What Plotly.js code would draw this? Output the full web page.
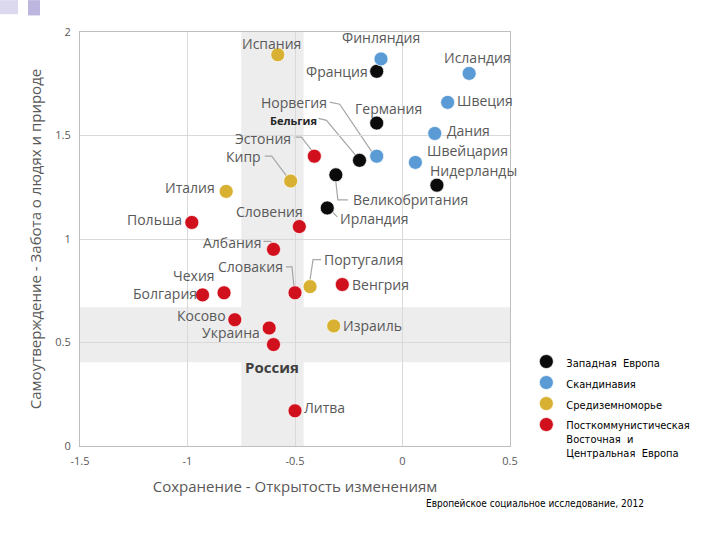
<!DOCTYPE html>
<html><head><meta charset="utf-8">
<script src="https://cdn.plot.ly/plotly-3.0.1.min.js"></script>
<style>html,body{margin:0;padding:0;background:#fff}</style>
</head><body><div id="chart" style="width:720px;height:540px"></div>
<script>
// ---- data ----
const countries = ["Испания","Финляндия","Франция","Исландия","Швеция","Германия","Дания","Норвегия","Бельгия","Эстония","Швейцария","Кипр","Великобритания","Нидерланды","Италия","Ирландия","Польша","Словения","Албания","Португалия","Венгрия","Словакия","Чехия","Болгария","Косово","Израиль","Украина","Россия","Литва"];
const opennessValues = [-0.58,-0.10,-0.12,0.31,0.21,-0.12,0.15,-0.12,-0.20,-0.41,0.06,-0.52,-0.31,0.16,-0.82,-0.35,-0.98,-0.48,-0.60,-0.43,-0.28,-0.50,-0.83,-0.93,-0.78,-0.32,-0.62,-0.60,-0.50];
const careValues = [1.89,1.87,1.81,1.80,1.66,1.56,1.51,1.40,1.38,1.40,1.37,1.28,1.31,1.26,1.23,1.15,1.08,1.06,0.95,0.77,0.78,0.74,0.74,0.73,0.61,0.58,0.57,0.49,0.17];
const regionOf = [2,1,0,1,1,0,1,1,0,3,1,2,0,0,2,0,3,3,3,2,3,3,3,3,3,2,3,3,3];
const regionNames = ["Западная  Европа","Скандинавия","Средиземноморье","Посткоммунистическая<br>Восточная  и<br>Центральная  Европа"];
const xTickVals = [-1.5,-1,-0.5,0,0.5];
const xTickText = ["-1.5","-1","-0.5","0","0.5"];
const yTickVals = [0,0.5,1,1.5,2];
const yTickText = ["0","0.5","1","1.5","2"];
const xBand = [-0.75,-0.46];
const yBand = [0.405,0.67];
const xTitle = "Сохранение - Открытость изменениям";
const yTitle = "Самоутверждение - Забота о людях и природе";
const sourceText = "Европейское социальное исследование, 2012";

// ---- styles ----
const regionColors = ["#0b0b0b","#5b9bd5","#d8b133","#d0101c"];
const labelFont = {family:"Open Sans, Noto Sans, sans-serif", size:14, color:"#595959"};
const narrowFont = "Liberation Sans Narrow, DejaVu Sans Condensed, Arial Narrow, Liberation Sans, sans-serif";

// label placement (px offsets from the point, dy positive = down); leader: elbow path offsets in px (y up)
const placement = {
 "Испания":{t:"center",dx:-6,dy:-11},
 "Финляндия":{t:"center",dx:0,dy:-21},
 "Франция":{t:"right",dx:-8,dy:0},
 "Исландия":{t:"center",dx:8,dy:-16},
 "Швеция":{t:"left",dx:8,dy:-2},
 "Германия":{t:"center",dx:12,dy:-15},
 "Дания":{t:"left",dx:11,dy:-3},
 "Швейцария":{t:"left",dx:11,dy:-12},
 "Нидерланды":{t:"left",dx:-8,dy:-15},
 "Норвегия":{t:"right",dx:-49,dy:-54, leader:[[-47,54],[-37,52],[-4,3]]},
 "Бельгия":{t:"left",dx:-91,dy:-40,bold:true, leader:[[-41,42],[-33,40],[-3,4]]},
 "Эстония":{t:"right",dx:-22,dy:-18, leader:[[-20,19],[-13,19],[-2,5]]},
 "Кипр":{t:"right",dx:-29,dy:-25, leader:[[-26,25],[-19,25],[-4,5]]},
 "Великобритания":{t:"left",dx:16,dy:25, leader:[[0,-7],[2,-25],[12,-25]]},
 "Ирландия":{t:"left",dx:12,dy:11, leader:[[5,-4],[10,-9]]},
 "Италия":{t:"right",dx:-10,dy:-4},
 "Польша":{t:"right",dx:-9,dy:-3},
 "Словения":{t:"center",dx:-30,dy:-15},
 "Албания":{t:"right",dx:-12,dy:-7, leader:[[-10,8],[-3,8],[-1,6]]},
 "Словакия":{t:"right",dx:-11,dy:-26, leader:[[-9,26],[-3,26],[-1,6]]},
 "Португалия":{t:"left",dx:13,dy:-27, leader:[[11,27],[3,27],[0,7]]},
 "Венгрия":{t:"left",dx:9,dy:0},
 "Чехия":{t:"center",dx:-30,dy:-17},
 "Болгария":{t:"right",dx:-5,dy:-1},
 "Косово":{t:"right",dx:-8,dy:-4},
 "Израиль":{t:"left",dx:8,dy:0},
 "Украина":{t:"right",dx:-8,dy:4},
 "Россия":{t:"center",dx:-2,dy:22,russia:true},
 "Литва":{t:"left",dx:8,dy:-3}
};

const traces = regionNames.map((name,g)=>{
  const idx = countries.map((c,i)=>i).filter(i=>regionOf[i]===g);
  return {
    type:"scatter", mode:"markers", name:name, legendgroup:"g"+g,
    x: idx.map(i=>opennessValues[i]), y: idx.map(i=>careValues[i]),
    text: idx.map(i=>countries[i]),
    marker:{size:14, color:regionColors[g], line:{color:"rgba(255,255,255,0.7)", width:1}},
    hoverinfo:"text"
  };
});

const annotations = countries.map((c,i)=>{
  const p = placement[c];
  const a = {x:opennessValues[i], y:careValues[i], xref:"x", yref:"y", text:c, font:Object.assign({},labelFont), borderpad:0,
    showarrow:false, xanchor:p.t, yanchor:"middle", xshift:p.dx, yshift:-p.dy};
  if (p.bold) { a.font = {family:"Open Sans, sans-serif", size:11, color:"#262626", weight:700}; }
  if (p.russia) { a.font = {family:"Open Sans, sans-serif", size:15, color:"#404040", weight:700}; }
  return a;
});

annotations.push({xref:"paper", yref:"paper", x:1.058, y:-0.14, xanchor:"center", yanchor:"middle", showarrow:false,
  text:sourceText, font:{family:narrowFont, size:10, color:"#000"}});

const leaderShapes = [];
countries.forEach((c,i)=>{
  const p = placement[c];
  if (!p.leader) return;
  const path = p.leader.map((pt,k)=>(k?"L":"M")+pt[0]+","+pt[1]).join(" ");
  leaderShapes.push({type:"path", xref:"x", yref:"y", xsizemode:"pixel", ysizemode:"pixel",
    xanchor:opennessValues[i], yanchor:careValues[i], path:path, line:{color:"#a6a6a6", width:1.2}, layer:"below"});
});

const layout = {
  width:720, height:540,
  margin:{l:80, r:210, t:32, b:94},
  paper_bgcolor:"#fff", plot_bgcolor:"#fff",
  showlegend:true,
  legend:{x:1.038, y:0.237, xanchor:"left", yanchor:"top", valign:"top", font:{family:narrowFont, size:11, color:"#000"}, bgcolor:"rgba(0,0,0,0)", itemsizing:"trace", tracegroupgap:2},
  xaxis:{range:[-1.5,0.5], tickvals:xTickVals, ticktext:xTickText, showgrid:true, gridcolor:"#d9d9d9", zeroline:false,
    showline:true, linecolor:"#bfbfbf", mirror:true, ticks:"", ticklabelstandoff:5, tickfont:{family:"Open Sans, sans-serif", size:11, color:"#595959"},
    title:{text:xTitle, font:{family:"Open Sans, sans-serif", size:15, color:"#595959"}, standoff:14}},
  yaxis:{range:[0,2], tickvals:yTickVals, ticktext:yTickText, showgrid:true, gridcolor:"#d9d9d9", zeroline:false,
    showline:true, linecolor:"#bfbfbf", mirror:true, ticks:"", ticklabelstandoff:6, tickfont:{family:"Open Sans, sans-serif", size:11, color:"#595959"},
    title:{text:yTitle, font:{family:"Open Sans, sans-serif", size:15, color:"#595959"}, standoff:10}},
  shapes:[
    {type:"rect", xref:"x", yref:"paper", x0:xBand[0], x1:xBand[1], y0:0, y1:1, fillcolor:"#ededed", line:{width:0}, layer:"below"},
    {type:"rect", xref:"paper", yref:"y", x0:0, x1:1, y0:yBand[0], y1:yBand[1], fillcolor:"#ededed", line:{width:0}, layer:"below"},
    {type:"rect", xref:"paper", yref:"paper", x0:-0.186, x1:-0.144, y0:1.077, y1:1.043, fillcolor:"#dcd8ee", line:{width:0}},
    {type:"rect", xref:"paper", yref:"paper", x0:-0.121, x1:-0.093, y0:1.077, y1:1.04, fillcolor:"#bdb6de", line:{width:0}}
  ].concat(leaderShapes),
  annotations:annotations
};

Plotly.newPlot("chart", traces, layout, {displayModeBar:false, staticPlot:true});
</script></body></html>
